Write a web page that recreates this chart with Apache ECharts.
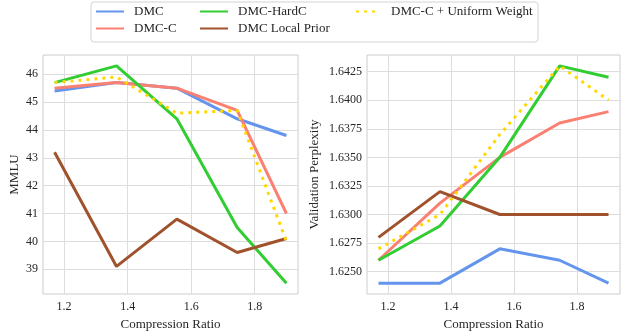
<!DOCTYPE html>
<html>
<head>
<meta charset="utf-8">
<script src="https://cdn.jsdelivr.net/npm/echarts@6/dist/echarts.min.js"></script>
<style>
html, body { margin: 0; padding: 0; background: #fff; }
#main { width: 621px; height: 332px; }
</style>
</head>
<body>
<div id="main"></div>
<script>
var myChart = echarts.init(document.getElementById('main'));

var ratios = [1.17, 1.365, 1.555, 1.745, 1.9];
var names = ['DMC', 'DMC-C', 'DMC-HardC', 'DMC Local Prior', 'DMC-C + Uniform Weight'];
var colors = ['#6495ED', '#FA8072', '#32CD32', '#A0522D', '#FFD700'];

// MMLU (left)
var mmluDMC = [45.4, 45.7, 45.5, 44.4, 43.8];
var mmluDMCC = [45.5, 45.7, 45.5, 44.7, 41.0];
var mmluHardC = [45.7, 46.3, 44.4, 40.5, 38.5];
var mmluLocal = [43.2, 39.1, 40.8, 39.6, 40.1];
var mmluUniform = [45.7, 45.9, 44.6, 44.7, 40.0];

// Validation perplexity (right)
var pplDMC = [1.624, 1.624, 1.627, 1.626, 1.624];
var pplDMCC = [1.626, 1.631, 1.635, 1.638, 1.639];
var pplHardC = [1.626, 1.629, 1.635, 1.643, 1.642];
var pplLocal = [1.628, 1.632, 1.630, 1.630, 1.630];
var pplUniform = [1.627, 1.630, 1.637, 1.643, 1.640];

var xTicks = [1.2, 1.4, 1.6, 1.8];
var mmluTicks = [39, 40, 41, 42, 43, 44, 45, 46];
var pplTicks = [1.625, 1.6275, 1.63, 1.6325, 1.635, 1.6375, 1.64, 1.6425];

var font = '"Liberation Serif", "DejaVu Serif", serif';
var textColor = '#262626';

function pairs(ys) {
	var out = [];
	for (var i = 0; i < ys.length; i++) {
		out.push([ratios[i], ys[i]]);
	}
	return out;
}

function makeSeries(idx, values, k) {
	return {
		name: names[k],
		type: 'line',
		xAxisIndex: idx,
		yAxisIndex: idx,
		symbol: 'none',
		lineStyle: {
			color: colors[k],
			width: 3,
			type: k === 4 ? [3, 5] : 'solid',
			cap: 'butt'
		},
		itemStyle: { color: colors[k] },
		z: 2 + k,
		animation: false,
		data: pairs(values)
	};
}

function xAxis(idx) {
	return {
		type: 'value',
		gridIndex: idx,
		min: 1.1335,
		max: 1.9365,
		name: 'Compression Ratio',
		nameLocation: 'middle',
		nameGap: 21,
		nameTextStyle: { fontFamily: font, fontSize: 13, color: textColor },
		axisLine: { show: false },
		axisTick: { show: false, customValues: xTicks },
		axisLabel: {
			customValues: xTicks,
			fontFamily: font, fontSize: 12, color: textColor, margin: 7,
			formatter: function (v) { return v.toFixed(1); }
		},
		splitLine: { show: true, lineStyle: { color: '#dddddd', width: 1 } }
	};
}

function yAxis(idx, name, min, max, ticks, digits, gap) {
	return {
		type: 'value',
		gridIndex: idx,
		min: min,
		max: max,
		name: name,
		nameLocation: 'middle',
		nameGap: gap,
		nameTextStyle: { fontFamily: font, fontSize: 13, color: textColor },
		axisLine: { show: false },
		axisTick: { show: false, customValues: ticks },
		axisLabel: {
			customValues: ticks,
			fontFamily: font, fontSize: 12, color: textColor, margin: 5,
			formatter: function (v) { return v.toFixed(digits); }
		},
		splitLine: { show: true, lineStyle: { color: '#dddddd', width: 1 } }
	};
}

function legendCol(left, items, w, pad) {
	return {
		orient: 'vertical',
		left: left,
		top: 5,
		padding: 0,
		itemWidth: w,
		itemHeight: 14,
		itemGap: 4,
		z: 10,
		selectedMode: false,
		itemStyle: { opacity: 0 },
		textStyle: { fontFamily: font, fontSize: 13, color: textColor, padding: [0, 0, 0, pad] },
		data: items
	};
}

var series = [];
var leftSets = [mmluDMC, mmluDMCC, mmluHardC, mmluLocal, mmluUniform];
var rightSets = [pplDMC, pplDMCC, pplHardC, pplLocal, pplUniform];
for (var k = 0; k < names.length; k++) {
	series.push(makeSeries(0, leftSets[k], k));
}
for (var k = 0; k < names.length; k++) {
	series.push(makeSeries(1, rightSets[k], k));
}

option = {
	backgroundColor: '#ffffff',
	animation: false,
	graphic: [{
		type: 'rect',
		z: 1,
		shape: { x: 91, y: 2, width: 447, height: 40, r: 3 },
		style: { fill: '#ffffff', stroke: '#d3d3d3', lineWidth: 1 }
	}],
	legend: [
		legendCol(95, [names[0], names[1]], 28, 5),
		legendCol(199, [names[2], names[3]], 28, 5),
		legendCol(355, [names[4]], 20, 10)
	],
	grid: [
		{ left: 43, top: 55, width: 255, height: 239, show: true, borderColor: '#cccccc', borderWidth: 1, backgroundColor: 'transparent', outerBoundsMode: 'none', containLabel: false },
		{ left: 367, top: 55, width: 253, height: 239, show: true, borderColor: '#cccccc', borderWidth: 1, backgroundColor: 'transparent', outerBoundsMode: 'none', containLabel: false }
	],
	xAxis: [xAxis(0), xAxis(1)],
	yAxis: [
		yAxis(0, 'MMLU', 38.11, 46.69, mmluTicks, 0, 22),
		yAxis(1, 'Validation Perplexity', 1.62305, 1.64395, pplTicks, 4, 46)
	],
	series: series
};

myChart.setOption(option);
window.onresize = myChart.resize;
</script>
</body>
</html>
